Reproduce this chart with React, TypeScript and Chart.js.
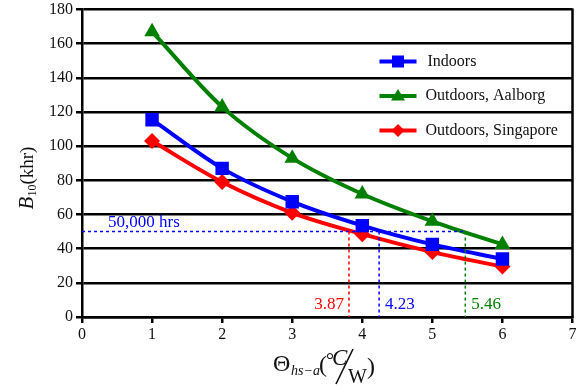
import React, { useEffect, useRef } from "react";
import { Chart, registerables } from "chart.js";

Chart.register(...registerables);

const xValues = [1, 2, 3, 4, 5, 6];
const indoors = [115.5, 87, 67.5, 53.5, 42.5, 34];
const aalborg = [167, 123, 93, 72, 56, 42.5];
const singapore = [103, 79, 61, 48.5, 38, 29.5];

const seriesNames = ["Indoors", "Outdoors, Aalborg", "Outdoors, Singapore"];
const seriesColors = ["#0000FF", "#008000", "#FF0000"];
const seriesMarkers = ["rect", "triangle", "rectRot"];
const seriesRadius = [9.5, 9, 8];

const thresholdValue = 50;
const thresholdLabel = "50,000 hrs";
const crossX = [3.81, 4.24, 5.47];
const crossLabels = ["3.87", "4.23", "5.46"];
const crossColors = ["#FF0000", "#0000FF", "#008000"];

const yTicks = { min: 0, max: 180, step: 20 };
const xTicks = { min: 0, max: 7, step: 1 };

const SERIF = "'Liberation Serif', 'Times New Roman', serif";

const overlayPlugin = {
  id: "overlay",
  afterDatasetsDraw(chart: any) {
    const { ctx, chartArea, scales } = chart;
    const xs = scales.x;
    const ys = scales.y;
    ctx.save();
    // right border
    ctx.strokeStyle = "#000";
    ctx.lineWidth = 2.5;
    ctx.beginPath();
    ctx.moveTo(chartArea.right, chartArea.top - 1);
    ctx.lineTo(chartArea.right, chartArea.bottom + 1);
    ctx.stroke();

    // threshold lines
    const yT = ys.getPixelForValue(thresholdValue);
    ctx.lineWidth = 1.5;
    ctx.setLineDash([3, 3]);
    ctx.strokeStyle = "#0000FF";
    ctx.beginPath();
    ctx.moveTo(xs.getPixelForValue(0), yT);
    ctx.lineTo(xs.getPixelForValue(Math.max(...crossX)), yT);
    ctx.stroke();
    crossX.forEach((v, i) => {
      ctx.strokeStyle = crossColors[i];
      ctx.beginPath();
      ctx.moveTo(xs.getPixelForValue(v), yT);
      ctx.lineTo(xs.getPixelForValue(v), ys.getPixelForValue(0));
      ctx.stroke();
    });
    ctx.setLineDash([]);

    ctx.font = `17px ${SERIF}`;
    ctx.textBaseline = "middle";
    ctx.fillStyle = "#0000FF";
    ctx.textAlign = "left";
    ctx.fillText(thresholdLabel, xs.getPixelForValue(0) + 26, yT - 9);
    const yLab = ys.getPixelForValue(0) - 12;
    crossX.forEach((v, i) => {
      ctx.fillStyle = crossColors[i];
      const px = xs.getPixelForValue(v);
      if (i === 0) {
        ctx.textAlign = "right";
        ctx.fillText(crossLabels[i], px - 5, yLab);
      } else {
        ctx.textAlign = "left";
        ctx.fillText(crossLabels[i], px + 6, yLab);
      }
    });
    ctx.restore();
  },
  afterDraw(chart: any) {
    const { ctx, chartArea } = chart;
    ctx.save();
    // legend
    const lx0 = chartArea.right - 193;
    const ly0 = chartArea.top + 52;
    const gap = 34.5;
    ctx.font = `16px ${SERIF}`;
    ctx.textBaseline = "middle";
    ctx.textAlign = "left";
    seriesNames.forEach((name, i) => {
      const y = ly0 + i * gap;
      ctx.strokeStyle = seriesColors[i];
      ctx.fillStyle = seriesColors[i];
      ctx.lineWidth = 4;
      ctx.beginPath();
      ctx.moveTo(lx0, y);
      ctx.lineTo(lx0 + 37, y);
      ctx.stroke();
      const cx = lx0 + 18.5;
      ctx.beginPath();
      if (seriesMarkers[i] === "rect") {
        ctx.rect(cx - 6, y - 6, 12, 12);
      } else if (seriesMarkers[i] === "triangle") {
        ctx.moveTo(cx, y - 7);
        ctx.lineTo(cx + 7, y + 4.5);
        ctx.lineTo(cx - 7, y + 4.5);
        ctx.closePath();
      } else {
        ctx.moveTo(cx, y - 6.5);
        ctx.lineTo(cx + 6.5, y);
        ctx.lineTo(cx, y + 6.5);
        ctx.lineTo(cx - 6.5, y);
        ctx.closePath();
      }
      ctx.fill();
      ctx.fillStyle = "#111";
      ctx.fillText(name, lx0 + (i === 0 ? 48 : 46), y);
    });

    // y title (rotated)
    ctx.save();
    ctx.translate(33, 178);
    ctx.rotate(-Math.PI / 2);
    ctx.fillStyle = "#111";
    ctx.textBaseline = "alphabetic";
    ctx.textAlign = "left";
    ctx.font = `italic 21px ${SERIF}`;
    const wB = ctx.measureText("B").width;
    ctx.font = `12px ${SERIF}`;
    const w10 = ctx.measureText("10").width;
    ctx.font = `19px ${SERIF}`;
    const wK = ctx.measureText("(khr)").width;
    let sx = -(wB + w10 + wK) / 2;
    ctx.font = `italic 21px ${SERIF}`;
    ctx.fillText("B", sx, 0);
    sx += wB;
    ctx.font = `12px ${SERIF}`;
    ctx.fillText("10", sx, 3);
    sx += w10;
    ctx.font = `19px ${SERIF}`;
    ctx.fillText("(khr)", sx, 0);
    ctx.restore();

    // x title
    ctx.fillStyle = "#111";
    ctx.strokeStyle = "#111";
    ctx.textBaseline = "alphabetic";
    ctx.textAlign = "left";
    ctx.font = `24px ${SERIF}`;
    ctx.fillText("\u0398", 273, 371);
    ctx.font = `italic 14px ${SERIF}`;
    ctx.fillText("hs\u2212a", 291, 375);
    ctx.font = `24px ${SERIF}`;
    ctx.fillText("(", 319, 372);
    ctx.font = `20px ${SERIF}`;
    ctx.fillText("\u00B0", 326, 367);
    ctx.font = `italic 23px ${SERIF}`;
    ctx.fillText("C", 332, 365);
    ctx.lineWidth = 1.6;
    ctx.beginPath();
    ctx.moveTo(336, 384);
    ctx.lineTo(353, 349);
    ctx.stroke();
    ctx.font = `20px ${SERIF}`;
    ctx.fillText("W", 348, 383);
    ctx.font = `24px ${SERIF}`;
    ctx.fillText(")", 367, 374);
    ctx.restore();
  },
};

function App() {
  const ref = useRef<HTMLCanvasElement | null>(null);
  useEffect(() => {
    if (!ref.current) return;
    const series = [indoors, aalborg, singapore];
    const chart = new Chart(ref.current, {
      type: "line",
      data: {
        datasets: series.map((vals, i) => ({
          label: seriesNames[i],
          data: xValues.map((x, j) => ({ x, y: vals[j] })),
          borderColor: seriesColors[i],
          backgroundColor: seriesColors[i],
          borderWidth: 4,
          pointStyle: seriesMarkers[i] as any,
          pointRadius: seriesRadius[i],
          pointBorderWidth: 0,
          tension: 0.4,
          cubicInterpolationMode: "monotone" as const,
          fill: false,
        })),
      },
      options: {
        responsive: false,
        animation: false,
        devicePixelRatio: 1,
        layout: { padding: { top: 8, right: 7, left: 0, bottom: 0 } },
        plugins: { legend: { display: false }, tooltip: { enabled: false } },
        scales: {
          x: {
            type: "linear",
            min: xTicks.min,
            max: xTicks.max,
            ticks: {
              stepSize: xTicks.step,
              color: "#111",
              font: { family: SERIF, size: 16 },
              padding: 2,
            },
            grid: {
              drawOnChartArea: false,
              drawTicks: true,
              tickLength: 6,
              color: "#000",
              lineWidth: 2.5,
            },
            border: { display: true, color: "#000", width: 2.5 },
            afterFit(scale: any) {
              scale.height = 70;
              scale.paddingLeft = 0;
              scale.paddingRight = 0;
            },
          },
          y: {
            type: "linear",
            min: yTicks.min,
            max: yTicks.max,
            ticks: {
              stepSize: yTicks.step,
              color: "#111",
              font: { family: SERIF, size: 16 },
              padding: 3,
            },
            grid: {
              drawTicks: true,
              tickLength: 6,
              color: "#000",
              lineWidth: 2.5,
            },
            border: { display: true, color: "#000", width: 2.5 },
            afterFit(scale: any) {
              scale.width = 82;
              scale.paddingTop = 0;
              scale.paddingBottom = 0;
            },
          },
        },
      },
      plugins: [overlayPlugin],
    });
    return () => chart.destroy();
  }, []);
  return (
    <div style={{ position: "absolute", left: 0, top: 0, width: 582, height: 387, background: "#fff" }}>
      <canvas ref={ref} width={582} height={387} style={{ width: 582, height: 387 }} />
    </div>
  );
}

export default App;
